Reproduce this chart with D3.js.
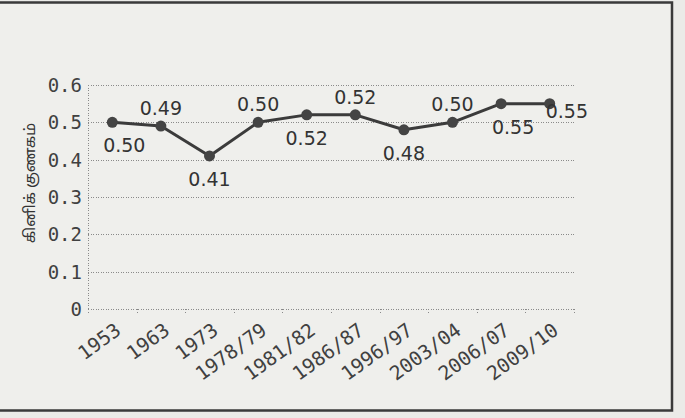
<!DOCTYPE html>
<meta charset="utf-8">
<style>
body { margin: 0; background: #ebebe8; }
svg { display: block; }
.grid line { stroke: #8a8a8a; stroke-width: 1; stroke-dasharray: 1,1.5; shape-rendering: crispEdges; }
.tick-y { font: 19px "DejaVu Sans Mono", monospace; fill: #404040; }
.tick-x { font: 19.5px "DejaVu Sans Mono", monospace; fill: #404040; }
.val { font: 19px "DejaVu Sans", sans-serif; fill: #333; }
</style>
<body>
<svg width="685" height="418"></svg>
<script src="https://d3js.org/d3.v7.min.js"></script>
<script>
// Gini coefficient by survey round
var years = ["1953", "1963", "1973", "1978/79", "1981/82", "1986/87", "1996/97", "2003/04", "2006/07", "2009/10"];
var gini = [0.50, 0.49, 0.41, 0.50, 0.52, 0.52, 0.48, 0.50, 0.55, 0.55];
var valueLabels = ["0.50", "0.49", "0.41", "0.50", "0.52", "0.52", "0.48", "0.50", "0.55", "0.55"];
var yTicks = [0, 0.1, 0.2, 0.3, 0.4, 0.5, 0.6];
var yTitle = "கினிக் குணகம்";

// where each value label sits relative to its point
var labelSide = ["belowRight", "above", "below", "above", "below", "above", "below", "above", "belowRight", "right"];

var svg = d3.select("svg"),
    plotLeft = 88, plotRight = 574, plotTop = 85, plotBottom = 309;

// paper frame
svg.append("rect")
    .attr("x", -5).attr("y", 2.5)
    .attr("width", 677).attr("height", 408)
    .attr("fill", "#efefec")
    .attr("stroke", "#3a3a3a").attr("stroke-width", 2.5);

var x = d3.scalePoint().domain(years).range([plotLeft, plotRight]).padding(0.5);
var y = d3.scaleLinear().domain([0, 0.6]).range([plotBottom, plotTop]);

// gridlines
var grid = svg.append("g").attr("class", "grid");
grid.selectAll("line.h")
    .data(yTicks)
    .enter().append("line")
    .attr("x1", plotLeft).attr("x2", plotRight)
    .attr("y1", function(d) { return Math.round(y(d)) + 0.5; })
    .attr("y2", function(d) { return Math.round(y(d)) + 0.5; });
grid.append("line")
    .attr("x1", plotLeft + 0.5).attr("x2", plotLeft + 0.5)
    .attr("y1", y(0.6)).attr("y2", y(0));

// small ticks between categories on the base line
var step = x.step();
grid.selectAll("line.t")
    .data(d3.range(years.length + 1))
    .enter().append("line")
    .attr("x1", function(i) { return Math.round(plotLeft + i * step) + 0.5; })
    .attr("x2", function(i) { return Math.round(plotLeft + i * step) + 0.5; })
    .attr("y1", y(0)).attr("y2", y(0) + 4);

// y tick labels
svg.selectAll("text.tick-y")
    .data(yTicks)
    .enter().append("text")
    .attr("class", "tick-y")
    .attr("x", plotLeft - 6)
    .attr("y", function(d) { return y(d); })
    .attr("dy", "0.36em")
    .attr("text-anchor", "end")
    .text(function(d) { return d === 0 ? "0" : d3.format(".1f")(d); });

// x tick labels, slanted
svg.selectAll("text.tick-x")
    .data(years)
    .enter().append("text")
    .attr("class", "tick-x")
    .attr("text-anchor", "end")
    .attr("transform", function(d) { return "translate(" + (x(d) + 2) + "," + (y(0) + 13) + ") rotate(-36)"; })
    .attr("dy", "0.7em")
    .text(function(d) { return d; });

// y title
svg.append("text")
    .attr("transform", "translate(30,183) rotate(-90)")
    .attr("text-anchor", "middle")
    .attr("dy", "0.35em")
    .style("font", "15px 'Noto Sans Tamil', 'Noto Sans', sans-serif")
    .style("fill", "#333")
    .text(yTitle);

// line + markers
var line = d3.line()
    .x(function(d, i) { return x(years[i]); })
    .y(function(d) { return y(d); });

svg.append("path")
    .datum(gini)
    .attr("fill", "none")
    .attr("stroke", "#3b3b3b")
    .attr("stroke-width", 3)
    .attr("stroke-linejoin", "round")
    .attr("d", line);

svg.selectAll("circle")
    .data(gini)
    .enter().append("circle")
    .attr("cx", function(d, i) { return x(years[i]); })
    .attr("cy", function(d) { return y(d); })
    .attr("r", 5.5)
    .attr("fill", "#444");

// value labels
svg.selectAll("text.val")
    .data(gini)
    .enter().append("text")
    .attr("class", "val")
    .attr("text-anchor", function(d, i) { return labelSide[i] === "right" ? "start" : "middle"; })
    .attr("x", function(d, i) {
        var s = labelSide[i];
        return x(years[i]) + (s === "right" ? -4 : s === "belowRight" ? 12 : 0);
    })
    .attr("y", function(d, i) {
        var s = labelSide[i];
        return y(d) + (s === "above" ? -11 : s === "right" ? 14 : 30);
    })
    .text(function(d, i) { return valueLabels[i]; });
</script>
</body>
